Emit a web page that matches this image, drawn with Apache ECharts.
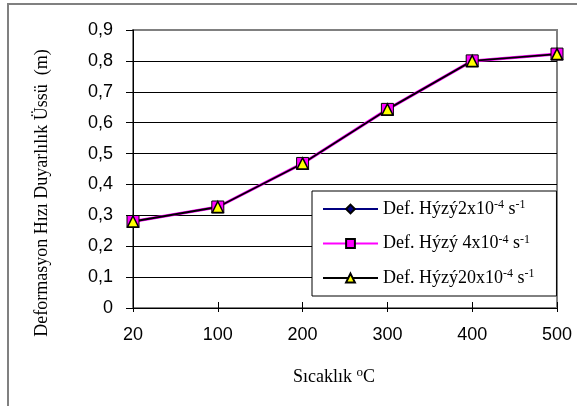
<!DOCTYPE html>
<html><head><meta charset="utf-8">
<script src="https://cdn.jsdelivr.net/npm/echarts@6/dist/echarts.min.js"></script>
<style>html,body{margin:0;padding:0;background:#fff}#c{width:577px;height:406px}</style>
</head><body><div id="c"></div>
<script>
var categories = ['20', '100', '200', '300', '400', '500'];
var rate2 = [0.28, 0.327, 0.468, 0.643, 0.80, 0.822];
var rate4 = [0.28, 0.327, 0.468, 0.643, 0.80, 0.822];
var rate20 = [0.28, 0.327, 0.468, 0.643, 0.80, 0.822];
var seriesNames = ['Def. Hýzý2x10{sup|-4} s{sup|-1}', 'Def. Hýzý 4x10{sup|-4} s{sup|-1}', 'Def. Hýzý20x10{sup|-4} s{sup|-1}'];
var yTitle = 'Deformasyon Hızı Duyarlılık Üssü  (m)';
var serif = '"Liberation Serif", "Times New Roman", serif';
var sans = '"Liberation Sans", Arial, sans-serif';

var chart = echarts.init(document.getElementById('c'), null, {renderer: 'canvas'});
var splitColors = ['#000','#000','#000','#000','#000','#000','#000','#000','#000','#808080'];
chart.setOption({
  animation: false,
  backgroundColor: '#fff',
  grid: {left: 133, right: 20, top: 30, bottom: 98, show: true, borderColor: '#808080', borderWidth: 2},
  xAxis: [{
    type: 'category', data: categories, boundaryGap: false,
    axisLine: {lineStyle: {color: '#000', width: 1}},
    axisTick: {show: true, length: 4, lineStyle: {color: '#000'}},
    axisLabel: {color: '#000', fontFamily: sans, fontSize: 18, margin: 18}
  }, {
    type: 'category', data: categories, boundaryGap: false, position: 'bottom',
    axisLine: {show: false},
    axisTick: {show: true, inside: true, length: 6, lineStyle: {color: '#000'}},
    axisLabel: {show: false}
  }],
  yAxis: {
    type: 'value', min: 0, max: 0.9, interval: 0.1,
    axisLine: {show: true, lineStyle: {color: '#000'}},
    axisTick: {show: true, length: 7, lineStyle: {color: '#000'}},
    axisLabel: {color: '#000', fontFamily: sans, fontSize: 18, margin: 20,
      formatter: function (v) { return v === 0 ? '0' : v.toFixed(1).replace('.', ','); }},
    splitLine: {show: true, lineStyle: {color: splitColors, width: 1}}
  },
  legend: {
    orient: 'vertical', left: 312, top: 191,
    padding: [8, 22, 9, 10], itemGap: 15.5,
    itemWidth: 55, itemHeight: 11,
    borderColor: '#000', borderWidth: 1, backgroundColor: '#fff',
    textStyle: {fontFamily: serif, fontSize: 18, color: '#000',
      rich: {sup: {fontFamily: serif, fontSize: 12, verticalAlign: 'top', padding: [0, 0, 8, 0], color: '#000'}}},
    data: seriesNames
  },
  series: [{
    name: seriesNames[0], type: 'line', data: rate2,
    symbol: 'diamond', symbolSize: 11,
    lineStyle: {color: '#000080', width: 1.5},
    itemStyle: {color: '#000080', borderColor: '#000', borderWidth: 1}
  }, {
    name: seriesNames[1], type: 'line', data: rate4,
    symbol: 'rect', symbolSize: 12,
    lineStyle: {color: '#ff00ff', width: 3},
    itemStyle: {color: '#ff00ff', borderColor: '#000', borderWidth: 1}
  }, {
    name: seriesNames[2], type: 'line', data: rate20,
    symbol: 'triangle', symbolSize: 11,
    lineStyle: {color: '#000', width: 1.8},
    itemStyle: {color: '#ffff00', borderColor: '#000', borderWidth: 1.5}
  }],
  graphic: [{
    type: 'rect', shape: {x: 8, y: 4, width: 600, height: 430}, silent: true, z: -10,
    style: {fill: null, stroke: '#808080', lineWidth: 2}
  }, {
    type: 'text', x: 42, y: 193, rotation: Math.PI / 2,
    style: {text: yTitle, fontFamily: serif, fontSize: 18, fill: '#000', align: 'center', verticalAlign: 'middle'}
  }, {
    type: 'text', x: 334, y: 377,
    style: {text: 'Sıcaklık {sup|o}C', fontFamily: serif, fontSize: 18, fill: '#000', align: 'center', verticalAlign: 'middle',
      rich: {sup: {fontFamily: serif, fontSize: 13, verticalAlign: 'top', padding: [0, 0, 8, 0]}}}
  }]
});
</script></body></html>
